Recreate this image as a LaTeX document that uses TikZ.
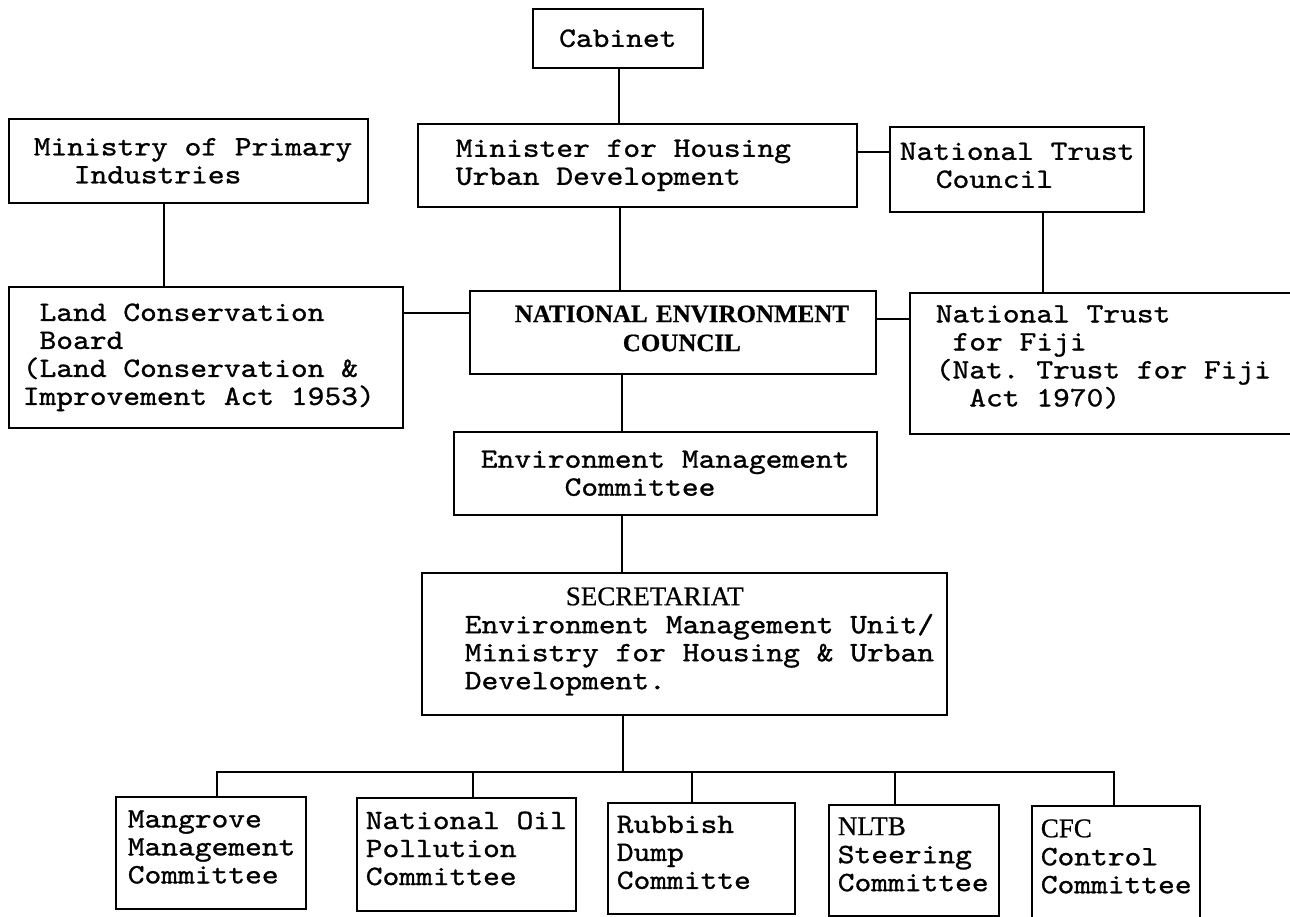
\documentclass[tikz,border=0pt]{standalone}
\usepackage{fontspec}
\newfontfamily\tw{lmmono10-regular.otf}[FakeStretch=1.14,FakeBold=1]
\newfontfamily\capf{Liberation Serif}[FakeBold=0.6]
\newcommand\mycaps[1]{{\capf\fontsize{27}{28}\selectfont #1}}
\newcommand\twfont{\tw\fontsize{28}{28}\selectfont
  \fontdimen2\font=16.76pt\fontdimen3\font=0pt\fontdimen4\font=0pt
  \frenchspacing\spaceskip=16.76pt\relax}
\newcommand\tline[1]{\mbox{\spaceskip=16.76pt\relax #1}}
\newcommand\lift[1]{\rule[-#1]{0pt}{0pt}}
\begin{document}
\begin{tikzpicture}[x=1pt,y=-1pt,
  bx/.style={draw, line width=1.6pt, inner xsep=0pt, inner ysep=0pt, anchor=north west, align=left,
    font=\twfont},
  conn/.style={line width=1.5pt}]
\useasboundingbox (0,0) rectangle (1290,916);
\fill[white] (0,0) rectangle (1290,916);
\clip (0,0) rectangle (1290,916);

% boxes
\node[bx, minimum width=170pt, minimum height=59pt, align=center] (cab) at (532,8) {Cabinet};
\node[bx, minimum width=359pt, minimum height=84pt, text width=309pt] (mpi) at (8,118)
  {\tline{Ministry of Primary}\\\tline{\hspace*{40pt}Industries}};
\node[bx, minimum width=439pt, minimum height=83pt, text width=363pt] (min) at (417,123)
  {\tline{Minister for Housing}\\\tline{Urban Development}};
\node[bx, minimum width=254pt, minimum height=85pt, text width=234pt] (ntc) at (889,126)
  {\tline{National Trust}\\\tline{\hspace*{36pt}Council\lift{8pt}}};
\node[bx, minimum width=394pt, minimum height=141pt, text width=366pt] (lcb) at (8,286)
  {\tline{\hspace*{16.76pt}Land Conservation}\\\tline{\hspace*{16.76pt}Board}\\\tline{(Land Conservation \&}\\\tline{Improvement Act 1953)}};
\node[bx, minimum width=406pt, minimum height=83pt, text width=316pt,
  font=\capf\bfseries\fontsize{25}{29}\selectfont] (nec) at (469,290)
  {\mbox{NATIONAL ENVIRONMENT}\\\mbox{\hspace*{108pt}COUNCIL\lift{8pt}}};
\node[bx, minimum width=391pt, minimum height=141pt, text width=339pt] (ntf) at (909,292)
  {\tline{National Trust}\\\tline{\hspace*{16.76pt}for Fiji}\\\tline{(Nat. Trust for Fiji}\\\tline{\hspace*{33.5pt}Act 1970)\lift{15pt}}};
\node[bx, minimum width=423pt, minimum height=83pt, text width=369pt] (emc) at (453,431)
  {\tline{Environment Management}\\\tline{\hspace*{83.8pt}Committee}};
\node[bx, minimum width=525pt, minimum height=142pt, text width=439pt] (sec) at (421,572)
  {\tline{\hspace*{101pt}\mycaps{SECRETARIAT}}\\\tline{Environment Management Unit/}\\\tline{Ministry for Housing \& Urban}\\\tline{Development.\lift{11pt}}};
\node[bx, minimum width=190pt, minimum height=112pt, text width=166pt] (mmc) at (115,796)
  {Mangrove\\Management\\Committee\lift{12pt}};
\node[bx, minimum width=219pt, minimum height=113pt, text width=201pt] (nop) at (356,797)
  {\tline{National Oil}\\Pollution\\Committee\lift{12pt}};
\node[bx, minimum width=187pt, minimum height=111pt, text width=169pt] (rdc) at (607,802)
  {Rubbish\\Dump\\Committe\lift{12pt}};
\node[bx, minimum width=170pt, minimum height=111pt, text width=152pt] (nsc) at (828,804)
  {\mycaps{NLTB}\\Steering\\Committee\lift{12pt}};
\node[bx, minimum width=168pt, minimum height=113pt, text width=150pt] (cfc) at (1031,805)
  {\mycaps{CFC}\\Control\\Committee\lift{12pt}};

% connector columns / rows
\coordinate (x164) at (164,0);
\coordinate (x619) at (619,0);
\coordinate (x620) at (620,0);
\coordinate (x622) at (622,0);
\coordinate (x623) at (623,0);
\coordinate (x1043) at (1043,0);
\coordinate (y152) at (0,152);
\coordinate (y313) at (0,313);
\coordinate (y319) at (0,319);
\coordinate (bar) at (623,772);
\coordinate (d1) at (217,0);
\coordinate (d2) at (473,0);
\coordinate (d3) at (692,0);
\coordinate (d4) at (895,0);
\coordinate (d5) at (1114,0);

\draw[conn] (x619 |- cab.south) -- (x619 |- min.north);
\draw[conn] (x164 |- mpi.south) -- (x164 |- lcb.north);
\draw[conn] (y152 -| min.east) -- (y152 -| ntc.west);
\draw[conn] (x620 |- min.south) -- (x620 |- nec.north);
\draw[conn] (x1043 |- ntc.south) -- (x1043 |- ntf.north);
\draw[conn] (y313 -| lcb.east) -- (y313 -| nec.west);
\draw[conn] (y319 -| nec.east) -- (y319 -| ntf.west);
\draw[conn] (x622 |- nec.south) -- (x622 |- emc.north);
\draw[conn] (x622 |- emc.south) -- (x622 |- sec.north);
\draw[conn] (x623 |- sec.south) -- (bar);
\draw[conn] (bar) -| (d1 |- mmc.north);
\draw[conn] (bar) -| (d2 |- nop.north);
\draw[conn] (bar) -| (d3 |- rdc.north);
\draw[conn] (bar) -| (d4 |- nsc.north);
\draw[conn] (bar) -| (d5 |- cfc.north);
\end{tikzpicture}
\end{document}
